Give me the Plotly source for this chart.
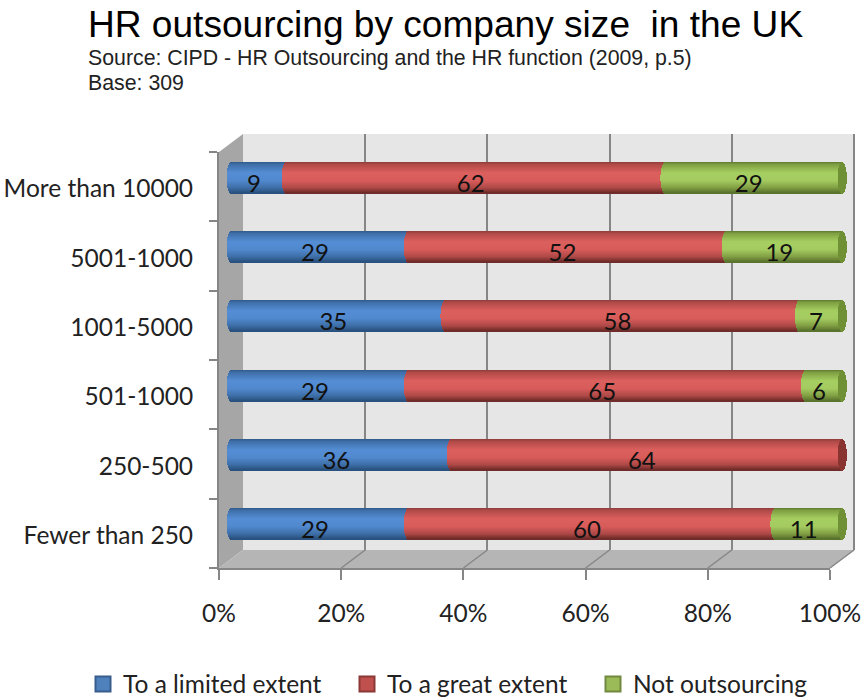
import numpy as np
import plotly.graph_objects as go

TITLE = "HR outsourcing by company size\u00a0 in the UK"
SOURCE = "Source: CIPD - HR Outsourcing and the HR function (2009, p.5)"
BASE = "Base: 309"
categories = ["Fewer than 250", "250-500", "501-1000", "1001-5000", "5001-1000", "More than 10000"]
limited = [29, 36, 29, 35, 29, 9]
great = [60, 64, 65, 58, 52, 62]
notout = [11, 0, 6, 7, 19, 29]
x_ticks = [0, 20, 40, 60, 80, 100]
x_tick_labels = ["0%", "20%", "40%", "60%", "80%", "100%"]

W, H = 862, 697
X0, X1, Y0, Y1 = 219, 830, 568, 152   # front plane, pixels
DX, DY = 24, 18                       # depth of the 3D box
BAR_PX = 31
RX_PX = 4.6
STRIPS = 31
PAD = 2                               # spare room on the bar axis for the round ends
FONT = "Lato"
TXT = "#222222"
GRID = "#868686"

def dom_x(shift, pad=0):
    k = (X1 - X0) / 100 * pad
    return [(X0 + shift - k) / W, (X1 + shift + k) / W]
def dom_y(shift): return [1 - (Y0 - shift) / H, 1 - (Y1 - shift) / H]

band_px = (Y0 - Y1) / len(categories)
rx = RX_PX * 100 / (X1 - X0)
t = (np.arange(STRIPS) + 0.5) / STRIPS * 2 - 1
dx = rx * np.sqrt(1 - t ** 2)
strip_w = (BAR_PX / STRIPS) * 1.25 / band_px
strip_off = -t * BAR_PX / 2 / band_px   # t=-1 is the top of the bar

STOPS = [-1, -0.85, -0.3, 0.2, 0.65, 1]
def shade(stops):
    a = np.array([[int(c[i:i + 2], 16) for i in (1, 3, 5)] for c in stops], float)
    return ["rgb(%d,%d,%d)" % tuple(np.interp(v, STOPS, a[:, k]) for k in range(3)) for v in t]

series = [
    ("To a limited extent", limited, ["#2f5a8a", "#3f6fa8", "#558ed5", "#5189cf", "#3f6fa8", "#27507d"], "#4f81bd", "#385d8a", "#2f5f95", "legend", 83),
    ("To a great extent", great, ["#8e3e3c", "#b04a48", "#dc605e", "#d85c5a", "#b04a48", "#6a2a28"], "#c0504d", "#8c3836", "#8a3432", "legend2", 347),
    ("Not outsourcing", notout, ["#5e7a2f", "#7f9f42", "#a6cf62", "#a4cb60", "#82a044", "#56702c"], "#9bbb59", "#71893f", "#6f9035", "legend3", 593),
]

fig = go.Figure()

# invisible trace that gives the back wall its subplot
fig.add_trace(go.Scatter(x=x_ticks, y=[0] * len(x_ticks), xaxis="x", yaxis="y", mode="none",
                         showlegend=False, hoverinfo="skip"))
cum = np.zeros(len(categories))
for k, (name, vals, stops, _, _, cap, _, _) in enumerate(series):
    vals = np.array(vals, float)
    cols = shade(stops)
    xs, ys, bases, offs, clrs = [], [], [], [], []
    cx, cy, cb, co, cc = [], [], [], [], []
    for i, v in enumerate(vals):
        if v <= 0:
            continue
        is_last = all(s[1][i] == 0 for s in series[k + 1:])
        for j in range(STRIPS):
            xs.append(v); ys.append(i)
            bases.append(cum[i] - dx[j]); offs.append(strip_off[j] - strip_w / 2); clrs.append(cols[j])
            if is_last:
                cx.append(2 * dx[j]); cy.append(i)
                cb.append(cum[i] + v - dx[j]); co.append(strip_off[j] - strip_w / 2); cc.append(cap)
    fig.add_trace(go.Bar(x=xs, y=ys, base=bases, offset=offs, width=[strip_w] * len(xs), orientation="h",
                         marker=dict(color=clrs, line=dict(width=0)), xaxis="x2", yaxis="y2",
                         showlegend=False, hoverinfo="skip"))
    if cx:
        fig.add_trace(go.Bar(x=cx, y=cy, base=cb, offset=co, width=[strip_w] * len(cx), orientation="h",
                             marker=dict(color=cc, line=dict(width=0)), xaxis="x2", yaxis="y2",
                             showlegend=False, hoverinfo="skip"))
    cum += vals

# data labels
cum = np.zeros(len(categories))
lx, ly, lt = [], [], []
for s in series:
    for i, v in enumerate(s[1]):
        if v > 0:
            lx.append(cum[i] + v / 2 - rx); ly.append(i - 8 / band_px); lt.append(str(v))
    cum += np.array(s[1], float)
fig.add_trace(go.Scatter(x=lx, y=ly, text=lt, mode="text", textposition="middle center",
                         textfont=dict(family=FONT, size=24, color="#111111"), cliponaxis=False,
                         xaxis="x2", yaxis="y2", showlegend=False, hoverinfo="skip"))

# front axes
fig.add_trace(go.Scatter(x=[0] * len(categories), y=categories, xaxis="x3", yaxis="y3", mode="none",
                         showlegend=False, hoverinfo="skip"))

# legend entries
for name, _, _, fill, edge, _, leg, _ in series:
    fig.add_trace(go.Scatter(x=[None], y=[None], name=name, mode="markers", xaxis="x3", yaxis="y3",
                             legend=leg, showlegend=True,
                             marker=dict(symbol="square", size=15, color=fill, line=dict(color=edge, width=2))))

def P(px, py): return "%.4f %.4f" % (px / W, 1 - py / H)
shapes = [
    dict(type="rect", xref="paper", yref="paper", layer="below", line=dict(width=0), fillcolor="#e6e6e6",
         x0=(X0 + DX) / W, x1=(X1 + DX) / W, y0=1 - (Y0 - DY) / H, y1=1 - (Y1 - DY) / H),
    dict(type="path", xref="paper", yref="paper", layer="below", line=dict(width=0), fillcolor="#a6a6a6",
         path="M %s L %s L %s L %s Z" % (P(X0, Y1), P(X0 + DX, Y1 - DY), P(X0 + DX, Y0 - DY), P(X0, Y0))),
    dict(type="path", xref="paper", yref="paper", layer="below", line=dict(width=0), fillcolor="#b5b5b5",
         path="M %s L %s L %s L %s Z" % (P(X0, Y0), P(X0 + DX, Y0 - DY), P(X1 + DX, Y0 - DY), P(X1, Y0))),
]
for v in x_ticks[1:]:
    px = X0 + (X1 - X0) * v / 100
    shapes.append(dict(type="line", xref="paper", yref="paper", line=dict(color=GRID, width=1.5),
                       x0=px / W, y0=1 - Y0 / H, x1=(px + DX) / W, y1=1 - (Y0 - DY) / H, layer="below"))
# right edge of the back wall
shapes.append(dict(type="line", xref="paper", yref="paper", line=dict(color=GRID, width=2), layer="below",
                   x0=(X1 + DX) / W, x1=(X1 + DX) / W, y0=1 - (Y0 - DY) / H, y1=1 - (Y1 - DY) / H))

annotations = [
    dict(text=SOURCE, xref="paper", yref="paper", x=86 / W, y=1 - 58 / H, xanchor="left", yanchor="middle",
         showarrow=False, font=dict(family="Liberation Sans", size=21.3, color="#222222")),
    dict(text=BASE, xref="paper", yref="paper", x=86 / W, y=1 - 83 / H, xanchor="left", yanchor="middle",
         showarrow=False, font=dict(family="Liberation Sans", size=21.3, color="#222222")),
]

hidden = dict(visible=False, showgrid=False, zeroline=False)
def legend_at(px):
    return dict(orientation="h", x=px / W, xanchor="left", y=1 - 684 / H, yanchor="middle",
                bgcolor="rgba(0,0,0,0)", font=dict(family=FONT, size=24.5, color=TXT), itemwidth=30)

fig.update_layout(
    width=W, height=H, margin=dict(l=0, r=0, t=0, b=0, autoexpand=False),
    paper_bgcolor="white", plot_bgcolor="rgba(0,0,0,0)",
    barmode="overlay", bargap=0,
    title=dict(text=TITLE, x=88 / W, xanchor="left", y=1 - 24 / H, yanchor="middle",
               font=dict(family="Liberation Sans", size=37.1, color="#000000")),
    shapes=shapes, annotations=annotations,
    xaxis=dict(domain=dom_x(DX), range=[0, 100], anchor="y", showgrid=True, gridcolor=GRID, gridwidth=2,
               tickvals=x_ticks, showticklabels=False, ticks="", zeroline=False, showline=False),
    yaxis=dict(domain=dom_y(DY), range=[0, 1], anchor="x", showgrid=False, zeroline=False,
               showticklabels=False, ticks="", showline=False),
    xaxis2=dict(domain=dom_x(DX / 2, PAD), range=[-PAD, 100 + PAD], anchor="y2", **hidden),
    yaxis2=dict(domain=dom_y(DY / 2), range=[-0.5, len(categories) - 0.5], anchor="x2", **hidden),
    xaxis3=dict(domain=dom_x(0), range=[0, 100], anchor="y3", tickvals=x_ticks, ticktext=x_tick_labels,
                ticks="outside", ticklen=10, tickwidth=2, tickcolor=GRID, showline=True, linecolor=GRID,
                linewidth=2, showgrid=False, zeroline=False, ticklabelstandoff=13,
                tickfont=dict(family=FONT, size=24.5, color=TXT)),
    yaxis3=dict(domain=dom_y(0), type="category", categoryorder="array", categoryarray=categories,
                range=[-0.5, len(categories) - 0.5], anchor="x3", tickson="boundaries",
                ticks="outside", ticklen=8, tickwidth=2, tickcolor=GRID, showline=True, linecolor=GRID,
                linewidth=2, showgrid=False, zeroline=False, ticklabelstandoff=19, ticklabelshift=2,
                tickfont=dict(family=FONT, size=24.5, color=TXT)),
    legend=legend_at(series[0][7]),
    legend2=legend_at(series[1][7]),
    legend3=legend_at(series[2][7]),
)
fig.write_html("out.html", config=dict(displayModeBar=False),
               post_script="document.body.style.margin='0';")
